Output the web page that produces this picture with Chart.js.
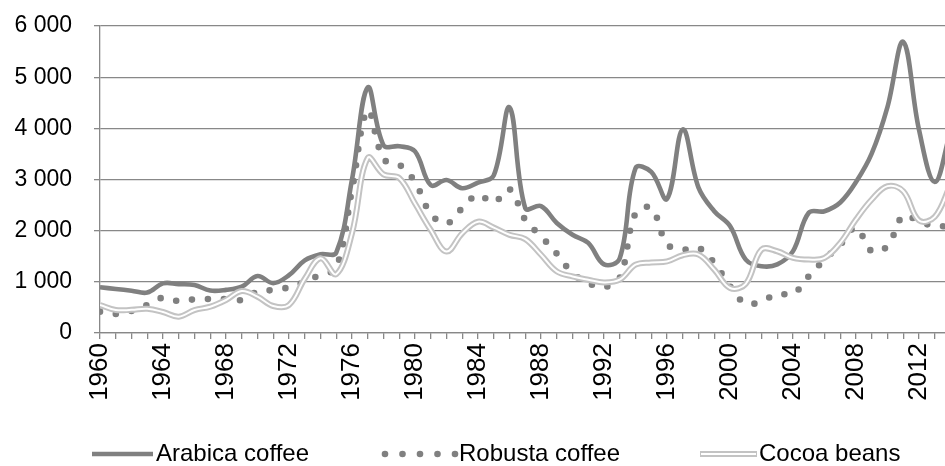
<!DOCTYPE html>
<html>
<head>
<meta charset="utf-8">
<script src="https://cdn.jsdelivr.net/npm/chart.js@4/dist/chart.umd.min.js"></script>
<style>
html,body{margin:0;padding:0;background:#ffffff;overflow:hidden}
#wrap{width:945px;height:466px;position:relative}
</style>
</head>
<body>
<div id="wrap"><canvas id="c" width="945" height="466"></canvas></div>
<script>
// ---- data ----
const years = [1960,1961,1962,1963,1964,1965,1966,1967,1968,1969,
               1970,1971,1972,1973,1974,1975,1976,1977,1978,1979,
               1980,1981,1982,1983,1984,1985,1986,1987,1988,1989,
               1990,1991,1992,1993,1994,1995,1996,1997,1998,1999,
               2000,2001,2002,2003,2004,2005,2006,2007,2008,2009,
               2010,2011,2012,2013,2014];
const arabica = [893,860,827,790,970,955,938,830,843,905,
                 1114,975,1130,1420,1540,1570,3000,4800,3670,3650,
                 3550,2890,2990,2830,2940,3080,4410,2440,2480,2150,
                 1920,1760,1340,1460,3220,3150,2620,3980,2840,2380,
                 2090,1435,1305,1340,1600,2350,2380,2550,2950,3510,
                 4420,5690,3970,2950,3950];
const robusta = [417,371,430,547,690,625,658,664,664,645,
                 808,840,893,1000,1140,1270,2800,4350,3400,3290,
                 2950,2330,2140,2440,2700,2550,2810,2210,1890,1550,
                 1170,976,898,1074,2340,2440,1740,1631,1663,1370,
                 913,574,620,763,763,1109,1435,1729,2055,1598,
                 1700,2290,2185,2085,2100];
const cocoa = [547,449,453,473,411,319,449,514,645,820,
               710,528,547,1060,1461,1150,1950,3420,3100,3030,
               2530,2013,1591,1948,2175,2060,1919,1835,1529,1204,
               1106,1041,989,1041,1334,1379,1399,1520,1533,1239,
               880,960,1631,1598,1468,1435,1468,1761,2218,2609,
               2870,2770,2200,2270,2900];
const seriesNames = ['Arabica coffee','Robusta coffee','Cocoa beans'];
const yTickValues = [0,1000,2000,3000,4000,5000,6000];
const xLabelYears = [1960,1964,1968,1972,1976,1980,1984,1988,1992,1996,2000,2004,2008,2012];

// ---- styles ----
const DARK = '#808080';
const LIGHT = '#c3c3c3';
const GRID = '#888888';
const FONT = '"Liberation Sans", Arial, Helvetica, sans-serif';
const FS_Y = 23;
const FS_X = 26;
const FS_LEG = 24;

function pts(vals){ return years.map((y,i)=>({x:y, y:vals[i]})); }
function fmt(v){ return String(v).replace(/\B(?=(\d{3})+(?!\d))/g,' '); }

const legendPlugin = {
  id:'customLegend',
  afterDraw(chart){
    const ctx = chart.ctx;
    const y = 454;
    ctx.save();
    // Arabica
    ctx.strokeStyle = DARK; ctx.lineWidth = 4.5; ctx.lineCap = 'butt';
    ctx.beginPath(); ctx.moveTo(92,y); ctx.lineTo(153,y); ctx.stroke();
    // Robusta dots
    ctx.fillStyle = DARK;
    [385,402.5,420,437.5,455].forEach(cx=>{ ctx.beginPath(); ctx.arc(cx,y,3.3,0,Math.PI*2); ctx.fill(); });
    // Cocoa double line
    ctx.strokeStyle = LIGHT; ctx.lineWidth = 6;
    ctx.beginPath(); ctx.moveTo(700,y); ctx.lineTo(757,y); ctx.stroke();
    ctx.strokeStyle = '#ffffff'; ctx.lineWidth = 2;
    ctx.beginPath(); ctx.moveTo(701,y); ctx.lineTo(756,y); ctx.stroke();
    // texts
    ctx.fillStyle = '#000000';
    ctx.font = FS_LEG + 'px ' + FONT;
    ctx.textBaseline = 'middle';
    ctx.textAlign = 'left';
    ctx.fillText(seriesNames[0], 156, y);
    ctx.fillText(seriesNames[1], 459, y);
    ctx.fillText(seriesNames[2], 759, y);
    ctx.restore();
  }
};

new Chart(document.getElementById('c'), {
  type:'line',
  data:{
    datasets:[
      {label:seriesNames[2]+' inner', data:pts(cocoa), borderColor:'#ffffff', borderWidth:2, tension:0.38, pointRadius:0, order:0},
      {label:seriesNames[2], data:pts(cocoa), borderColor:LIGHT, borderWidth:6, tension:0.38, pointRadius:0, order:1},
      {label:seriesNames[1], data:pts(robusta), borderColor:DARK, borderWidth:6.6, borderDash:[0,16], borderCapStyle:'round', tension:0.38, pointRadius:0, order:2},
      {label:seriesNames[0], data:pts(arabica), borderColor:DARK, borderWidth:4.6, tension:0.38, pointRadius:0, order:3}
    ]
  },
  options:{
    responsive:false,
    animation:false,
    devicePixelRatio:1,
    layout:{padding:{top:26,left:0,right:0,bottom:0}},
    plugins:{legend:{display:false}, tooltip:{enabled:false}},
    scales:{
      x:{
        type:'linear', min:1960, max:2013.65, bounds:'data',
        grid:{drawOnChartArea:false, drawTicks:true, tickLength:6, color:GRID, tickColor:GRID, lineWidth:1.3},
        border:{display:true, color:GRID, width:1.3},
        ticks:{stepSize:1, autoSkip:false, includeBounds:false, minRotation:90, maxRotation:90, padding:4,
               color:'#000000', font:{family:FONT, size:FS_X},
               callback:(v)=> xLabelYears.includes(v) ? String(v) : ''},
        afterFit:(s)=>{ s.height = 133; s.paddingLeft = 0; s.paddingRight = 0; }
      },
      y:{
        min:0, max:6000,
        afterBuildTicks:(s)=>{ s.ticks = yTickValues.map(v=>({value:v})); },
        grid:{color:GRID, tickColor:GRID, tickLength:6, lineWidth:1.3},
        border:{display:true, color:GRID, width:1.3},
        ticks:{padding:22, color:'#000000', font:{family:FONT, size:FS_Y}, callback:(v)=>fmt(v)},
        afterFit:(s)=>{ s.width = 100; s.paddingTop = 0; s.paddingBottom = 0; }
      }
    }
  },
  plugins:[legendPlugin]
});
</script>
</body>
</html>
